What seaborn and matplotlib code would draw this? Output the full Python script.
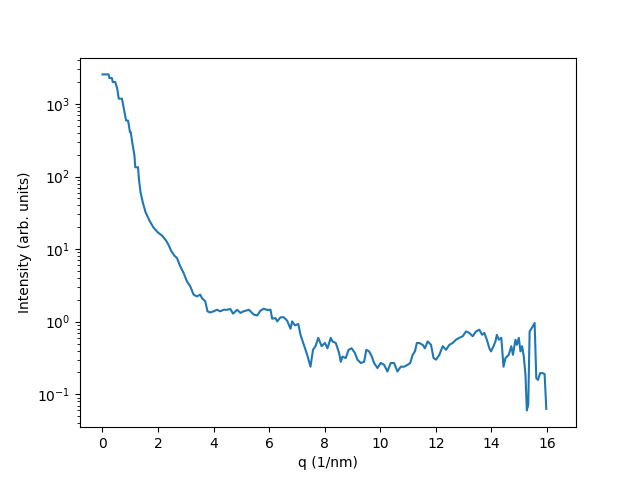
import matplotlib
matplotlib.use("Agg")
import matplotlib.pyplot as plt
import seaborn as sns
import pandas as pd
import numpy as np

q = [0.00, 0.22, 0.25, 0.34, 0.37, 0.46, 0.53, 0.585, 0.70, 0.78,
     0.85, 0.92, 0.99, 1.02, 1.07, 1.15, 1.18, 1.28, 1.31, 1.37,
     1.45, 1.55, 1.69, 1.83, 1.99, 2.15, 2.29, 2.39, 2.47, 2.59,
     2.68, 2.80, 2.92, 3.04, 3.16, 3.28, 3.40, 3.52, 3.58, 3.64,
     3.70, 3.78, 3.88, 4.00, 4.12, 4.24, 4.36, 4.49, 4.60, 4.70,
     4.85, 4.97, 5.08, 5.27, 5.45, 5.57, 5.69, 5.81, 5.93, 6.05,
     6.11, 6.23, 6.29, 6.41, 6.53, 6.65, 6.77, 6.83, 6.93, 7.05,
     7.13, 7.25, 7.37, 7.49, 7.58, 7.67, 7.77, 7.89, 8.01, 8.10,
     8.22, 8.28, 8.40, 8.52, 8.58, 8.64, 8.76, 8.86, 8.97, 9.09,
     9.18, 9.30, 9.42, 9.50, 9.60, 9.70, 9.78, 9.90, 10.02, 10.14,
     10.26, 10.38, 10.50, 10.62, 10.74, 10.86, 10.99, 11.08, 11.17, 11.25,
     11.32, 11.40, 11.53, 11.61, 11.71, 11.83, 11.92, 12.01, 12.13, 12.25,
     12.37, 12.49, 12.61, 12.73, 12.85, 12.97, 13.09, 13.21, 13.33, 13.45,
     13.57, 13.67, 13.75, 13.84, 13.93, 13.99, 14.08, 14.15, 14.20, 14.27,
     14.36, 14.44, 14.51, 14.63, 14.72, 14.78, 14.87, 14.92, 14.99, 15.05,
     15.11, 15.17, 15.23, 15.28, 15.33, 15.38, 15.47, 15.56, 15.62, 15.68,
     15.76, 15.84, 15.92, 15.98]

intensity = [2550, 2550, 2270, 2270, 2000, 2000, 1620, 1180, 1180, 813,
             590, 590, 408, 408, 297, 195, 134, 134, 93, 60.7,
             44.2, 32.2, 24.7, 20.0, 17.0, 15.3, 13.1, 11.2, 9.5, 8.1,
             7.56, 5.79, 4.70, 3.60, 3.07, 2.36, 2.23, 2.36, 2.12, 2.01,
             1.91, 1.39, 1.34, 1.39, 1.46, 1.39, 1.46, 1.46, 1.50, 1.29,
             1.46, 1.32, 1.39, 1.46, 1.25, 1.22, 1.42, 1.51, 1.45, 1.46,
             1.10, 1.12, 1.01, 1.15, 1.15, 1.03, 0.80, 1.01, 0.89, 0.93,
             0.66, 0.48, 0.35, 0.24, 0.41, 0.46, 0.60, 0.46, 0.51, 0.43,
             0.60, 0.535, 0.51, 0.37, 0.28, 0.33, 0.316, 0.41, 0.43, 0.37,
             0.30, 0.27, 0.28, 0.41, 0.39, 0.33, 0.27, 0.23, 0.27, 0.255,
             0.206, 0.27, 0.27, 0.206, 0.24, 0.24, 0.255, 0.27, 0.35, 0.39,
             0.51, 0.51, 0.48, 0.43, 0.535, 0.48, 0.316, 0.30, 0.35, 0.46,
             0.41, 0.48, 0.51, 0.565, 0.60, 0.63, 0.735, 0.70, 0.63, 0.735,
             0.775, 0.66, 0.70, 0.565, 0.43, 0.39, 0.46, 0.535, 0.66, 0.565,
             0.60, 0.24, 0.316, 0.35, 0.46, 0.35, 0.565, 0.48, 0.60, 0.39,
             0.46, 0.33, 0.186, 0.060, 0.0717, 0.735, 0.834, 0.96, 0.167, 0.158,
             0.196, 0.196, 0.19, 0.063]

x_label = "q (1/nm)"
y_label = "Intensity (arb. units)"

df = pd.DataFrame({"q": q, "I": intensity})

fig, ax = plt.subplots(figsize=(6.4, 4.8), dpi=100)
sns.lineplot(data=df, x="q", y="I", ax=ax, estimator=None, sort=False,
             color="#1f77b4", linewidth=1.5)
ax.set_yscale("log")
ax.set_xlim(-0.81, 17.05)
ax.set_xlabel(x_label)
ax.set_ylabel(y_label)
fig.savefig("out.png", dpi=100)
